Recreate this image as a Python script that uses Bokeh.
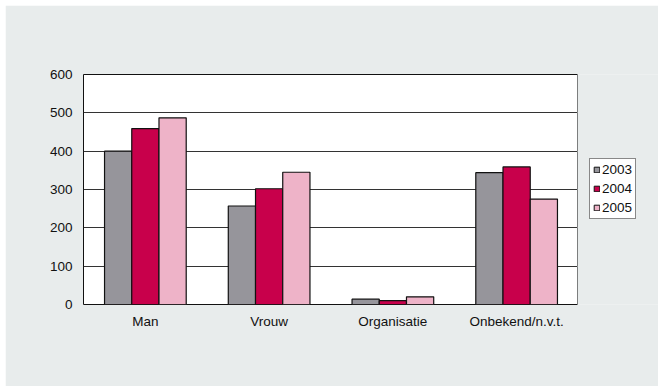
from bokeh.plotting import figure
from bokeh.layouts import row
from bokeh.models import ColumnDataSource, FactorRange, Legend, LegendItem, FixedTicker
from bokeh.transform import dodge
from bokeh.embed import file_html
from bokeh.resources import INLINE

categories = ["Man", "Vrouw", "Organisatie", "Onbekend/n.v.t."]
years = ["2003", "2004", "2005"]
v2003 = [400, 257, 14, 344]
v2004 = [459, 302, 10, 359]
v2005 = [487, 345, 20, 275]
y_ticks = [0, 100, 200, 300, 400, 500, 600]

colors = ["#96959b", "#c8004b", "#eeb3c8"]
bg = "#e8ecec"
font = "Liberation Sans"
fs = "13.5px"

src = ColumnDataSource(dict(cat=categories, y2003=v2003, y2004=v2004, y2005=v2005))

p = figure(width=573, height=381, x_range=FactorRange(*categories), y_range=(0, 600),
           output_backend="svg", toolbar_location=None, tools="",
           min_border_left=78, min_border_right=0, min_border_top=69, min_border_bottom=82,
           background_fill_color="white", border_fill_color=bg,
           outline_line_color="#111111", outline_line_width=1)
p.margin = (5, 0, 0, 5)

bw = 0.22
for i, (col, c) in enumerate(zip(["y2003", "y2004", "y2005"], colors)):
    p.vbar(x=dodge("cat", (i - 1) * bw, range=p.x_range), top=col, width=bw, source=src,
           fill_color=c, line_color="#111111", line_width=1.2)

p.yaxis.ticker = FixedTicker(ticks=y_ticks)
p.yaxis.axis_line_color = None
p.yaxis.major_tick_line_color = None
p.yaxis.minor_tick_line_color = None
p.yaxis.major_tick_out = 0
p.yaxis.major_label_standoff = 11
p.yaxis.major_label_text_font = font
p.yaxis.major_label_text_font_size = fs
p.yaxis.major_label_text_color = "#111111"

p.xaxis.axis_line_color = None
p.xaxis.major_tick_line_color = None
p.xaxis.minor_tick_line_color = None
p.xaxis.major_tick_out = 0
p.xaxis.major_label_standoff = 9
p.xaxis.major_label_text_font = font
p.xaxis.major_label_text_font_size = fs
p.xaxis.major_label_text_color = "#111111"

p.xgrid.grid_line_color = None
p.ygrid.ticker = FixedTicker(ticks=[100, 200, 300, 400, 500])
p.ygrid.grid_line_color = "#333333"
p.ygrid.grid_line_width = 1

# legend-only panel to the right (its frame is aligned with the main frame by the row)
p2 = figure(width=81, height=381, x_range=(0, 1), y_range=(0, 1),
            x_axis_location=None, y_axis_location=None,
            output_backend="svg", toolbar_location=None, tools="",
            min_border_left=0, min_border_right=0, min_border_top=69, min_border_bottom=82,
            background_fill_color=bg, border_fill_color=bg, outline_line_color=None)
p2.margin = (5, 0, 0, -1)
p2.grid.grid_line_color = None
keys = []
for c in colors:
    # key glyphs only: the point lies outside the visible range
    keys.append(p2.vbar(x=[5], top=[5], bottom=[4], width=0.1, fill_color=c,
                        line_color="#111111", line_width=1))

legend = Legend(items=[LegendItem(label=y, renderers=[r]) for y, r in zip(years, keys)],
                location=(12, 85), orientation="vertical",
                border_line_color="#111111", border_line_width=1,
                background_fill_color="white", background_fill_alpha=1,
                label_text_font=font, label_text_font_size=fs, label_text_color="#111111",
                glyph_width=7, glyph_height=7, label_standoff=2,
                label_height=15, spacing=4, padding=3, margin=0)
p2.add_layout(legend, "center")

layout = row(p, p2, spacing=0)
open("out.html", "w").write(file_html(layout, INLINE))
